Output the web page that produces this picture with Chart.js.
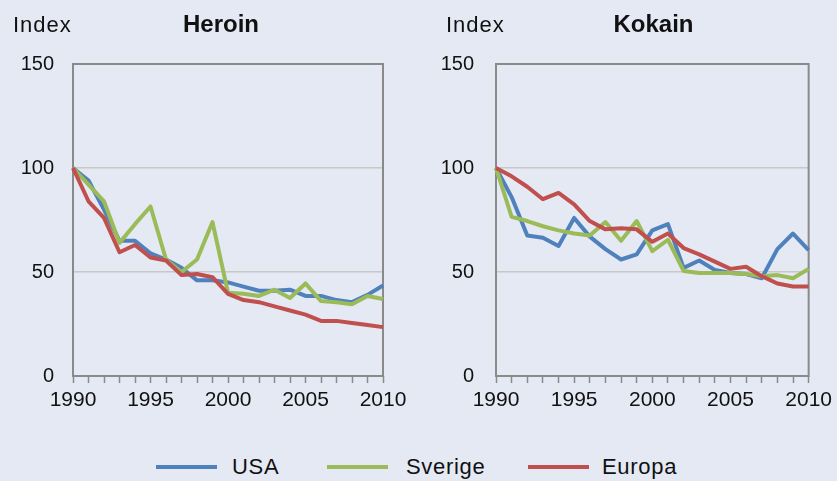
<!DOCTYPE html>
<html>
<head>
<meta charset="utf-8">
<script src="https://cdn.jsdelivr.net/npm/chart.js@4"></script>
<style>
    body { margin: 0; background: #e5e9f4; }
    #page { position: relative; width: 837px; height: 481px; background: #e5e9f4; overflow: hidden; font-family: 'Liberation Sans', Arial, sans-serif; }
    canvas { position: absolute; top: 0; }
    .swatch { position: absolute; top: 465px; height: 4px; width: 61px; }
    .legend-text { position: absolute; top: 454px; height: 26px; line-height: 26px; font-size: 22px; letter-spacing: 0.7px; color: #111; }
</style>
</head>
<body>
<div id="page">
    <canvas id="heroinChart" width="418" height="430" style="left:0"></canvas>
    <canvas id="kokainChart" width="419" height="430" style="left:418px"></canvas>

    <div class="swatch" style="left:156px; background:#4f81bd"></div>
    <div class="legend-text" style="left:232px">USA</div>
    <div class="swatch" style="left:327px; background:#9bbb59"></div>
    <div class="legend-text" style="left:406px">Sverige</div>
    <div class="swatch" style="left:528px; background:#c0504d"></div>
    <div class="legend-text" style="left:602px">Europa</div>
</div>

<script>
// Data (index, 1990 = 100)
const years = [1990, 1991, 1992, 1993, 1994, 1995, 1996, 1997, 1998, 1999, 2000,
               2001, 2002, 2003, 2004, 2005, 2006, 2007, 2008, 2009, 2010];
const yTicks = [0, 50, 100, 150];
const seriesNames = ['USA', 'Sverige', 'Europa'];

const heroinUSA     = [100, 94, 80, 65, 65, 59, 56, 52, 46, 46, 45, 43, 41, 41, 41.5, 38.5, 38.5, 36.5, 35.5, 39, 43.5];
const heroinSverige = [100, 92, 84, 64, 73, 81.5, 56, 50, 56, 74, 40, 39.5, 38.5, 41.5, 37.5, 44.5, 36, 35.5, 34.5, 38.5, 37];
const heroinEuropa  = [100, 84, 76, 59.5, 63, 57, 55.5, 48.5, 49, 47.5, 39.5, 36.5, 35.5, 33.5, 31.5, 29.5, 26.5, 26.5, 25.5, 24.5, 23.5];

const kokainUSA     = [100, 86, 67.5, 66.5, 62.5, 76, 67, 61, 56, 58.5, 70, 73, 52, 55.5, 51, 49.5, 49, 47, 61, 68.5, 60.5];
const kokainSverige = [100, 76.5, 74.5, 72, 70, 68.5, 67.5, 74, 65, 74.5, 60, 65.5, 50.5, 49.5, 49.5, 49.5, 49, 48, 48.5, 47, 51.5];
const kokainEuropa  = [100, 96, 91, 85, 88, 82.5, 74.5, 70.5, 71, 70.5, 64.5, 68.5, 61.5, 58.5, 55, 51.5, 52.5, 48, 44.5, 43, 43];

const colors = ['#4f81bd', '#9bbb59', '#c0504d'];
const axisGray = '#8a8a8a';

// Draws the gray frame around the plot area plus the "Index" label and panel title
const panelDecor = {
    id: 'panelDecor',
    beforeDatasetsDraw(chart) {
        const { ctx, chartArea } = chart;
        ctx.save();
        ctx.strokeStyle = axisGray;
        ctx.lineWidth = 2;
        ctx.strokeRect(chartArea.left, chartArea.top, chartArea.right - chartArea.left, chartArea.bottom - chartArea.top);
        ctx.restore();
    },
    afterDraw(chart, args, opts) {
        const ctx = chart.ctx;
        ctx.save();
        ctx.fillStyle = '#111';
        ctx.textBaseline = 'alphabetic';
        ctx.textAlign = 'left';
        ctx.font = "22px 'Liberation Sans', Arial, sans-serif";
        ctx.letterSpacing = '1px';
        ctx.fillText('Index', opts.indexX, 32);
        ctx.letterSpacing = '0px';
        ctx.textAlign = 'center';
        ctx.font = "bold 24px 'Liberation Sans', Arial, sans-serif";
        ctx.fillText(opts.title, opts.titleX, 32);
        ctx.restore();
    }
};

function makeChart(canvasId, title, data, geom) {
    const ctx = document.getElementById(canvasId).getContext('2d');
    return new Chart(ctx, {
        type: 'line',
        data: {
            labels: years,
            datasets: data.map((values, i) => ({
                label: seriesNames[i],
                data: values,
                borderColor: colors[i],
                backgroundColor: colors[i],
                borderWidth: 4,
                borderJoinStyle: 'round',
                pointRadius: 0,
                tension: 0,
                order: 3 - i
            }))
        },
        options: {
            responsive: false,
            animation: false,
            layout: { padding: { top: 64, right: geom.padRight, left: 0, bottom: 0 } },
            plugins: {
                legend: { display: false },
                tooltip: { enabled: false },
                panelDecor: { title: title, indexX: geom.indexX, titleX: geom.titleX }
            },
            scales: {
                x: {
                    type: 'category',
                    offset: false,
                    afterFit: scale => { scale.height = 54; },
                    border: { display: false },
                    grid: {
                        offset: false,
                        drawOnChartArea: false,
                        drawTicks: true,
                        tickLength: 7,
                        tickColor: axisGray,
                        tickWidth: 1.5
                    },
                    ticks: {
                        autoSkip: false,
                        maxRotation: 0,
                        padding: 5,
                        color: '#111',
                        font: { family: "'Liberation Sans', Arial, sans-serif", size: 21 },
                        callback: function (val) {
                            const y = this.getLabelForValue(val);
                            return y % 5 === 0 ? String(y) : '';
                        }
                    }
                },
                y: {
                    min: 0,
                    max: 150,
                    afterFit: scale => { scale.width = geom.axisLeft; },
                    afterBuildTicks: scale => { scale.ticks = yTicks.map(v => ({ value: v })); },
                    border: { display: false },
                    grid: {
                        drawTicks: false,
                        lineWidth: 1.5,
                        color: c => (c.tick.value === 50 || c.tick.value === 100) ? '#c8c8c8' : 'rgba(0,0,0,0)'
                    },
                    ticks: {
                        padding: geom.tickPad,
                        color: '#111',
                        font: { family: "'Liberation Sans', Arial, sans-serif", size: 20 }
                    }
                }
            }
        },
        plugins: [panelDecor]
    });
}

makeChart('heroinChart', 'Heroin', [heroinUSA, heroinSverige, heroinEuropa],
    { axisLeft: 73, padRight: 35, tickPad: 19, indexX: 13, titleX: 221 });
makeChart('kokainChart', 'Kokain', [kokainUSA, kokainSverige, kokainEuropa],
    { axisLeft: 78, padRight: 26, tickPad: 22, indexX: 28, titleX: 235.5 });
</script>
</body>
</html>
